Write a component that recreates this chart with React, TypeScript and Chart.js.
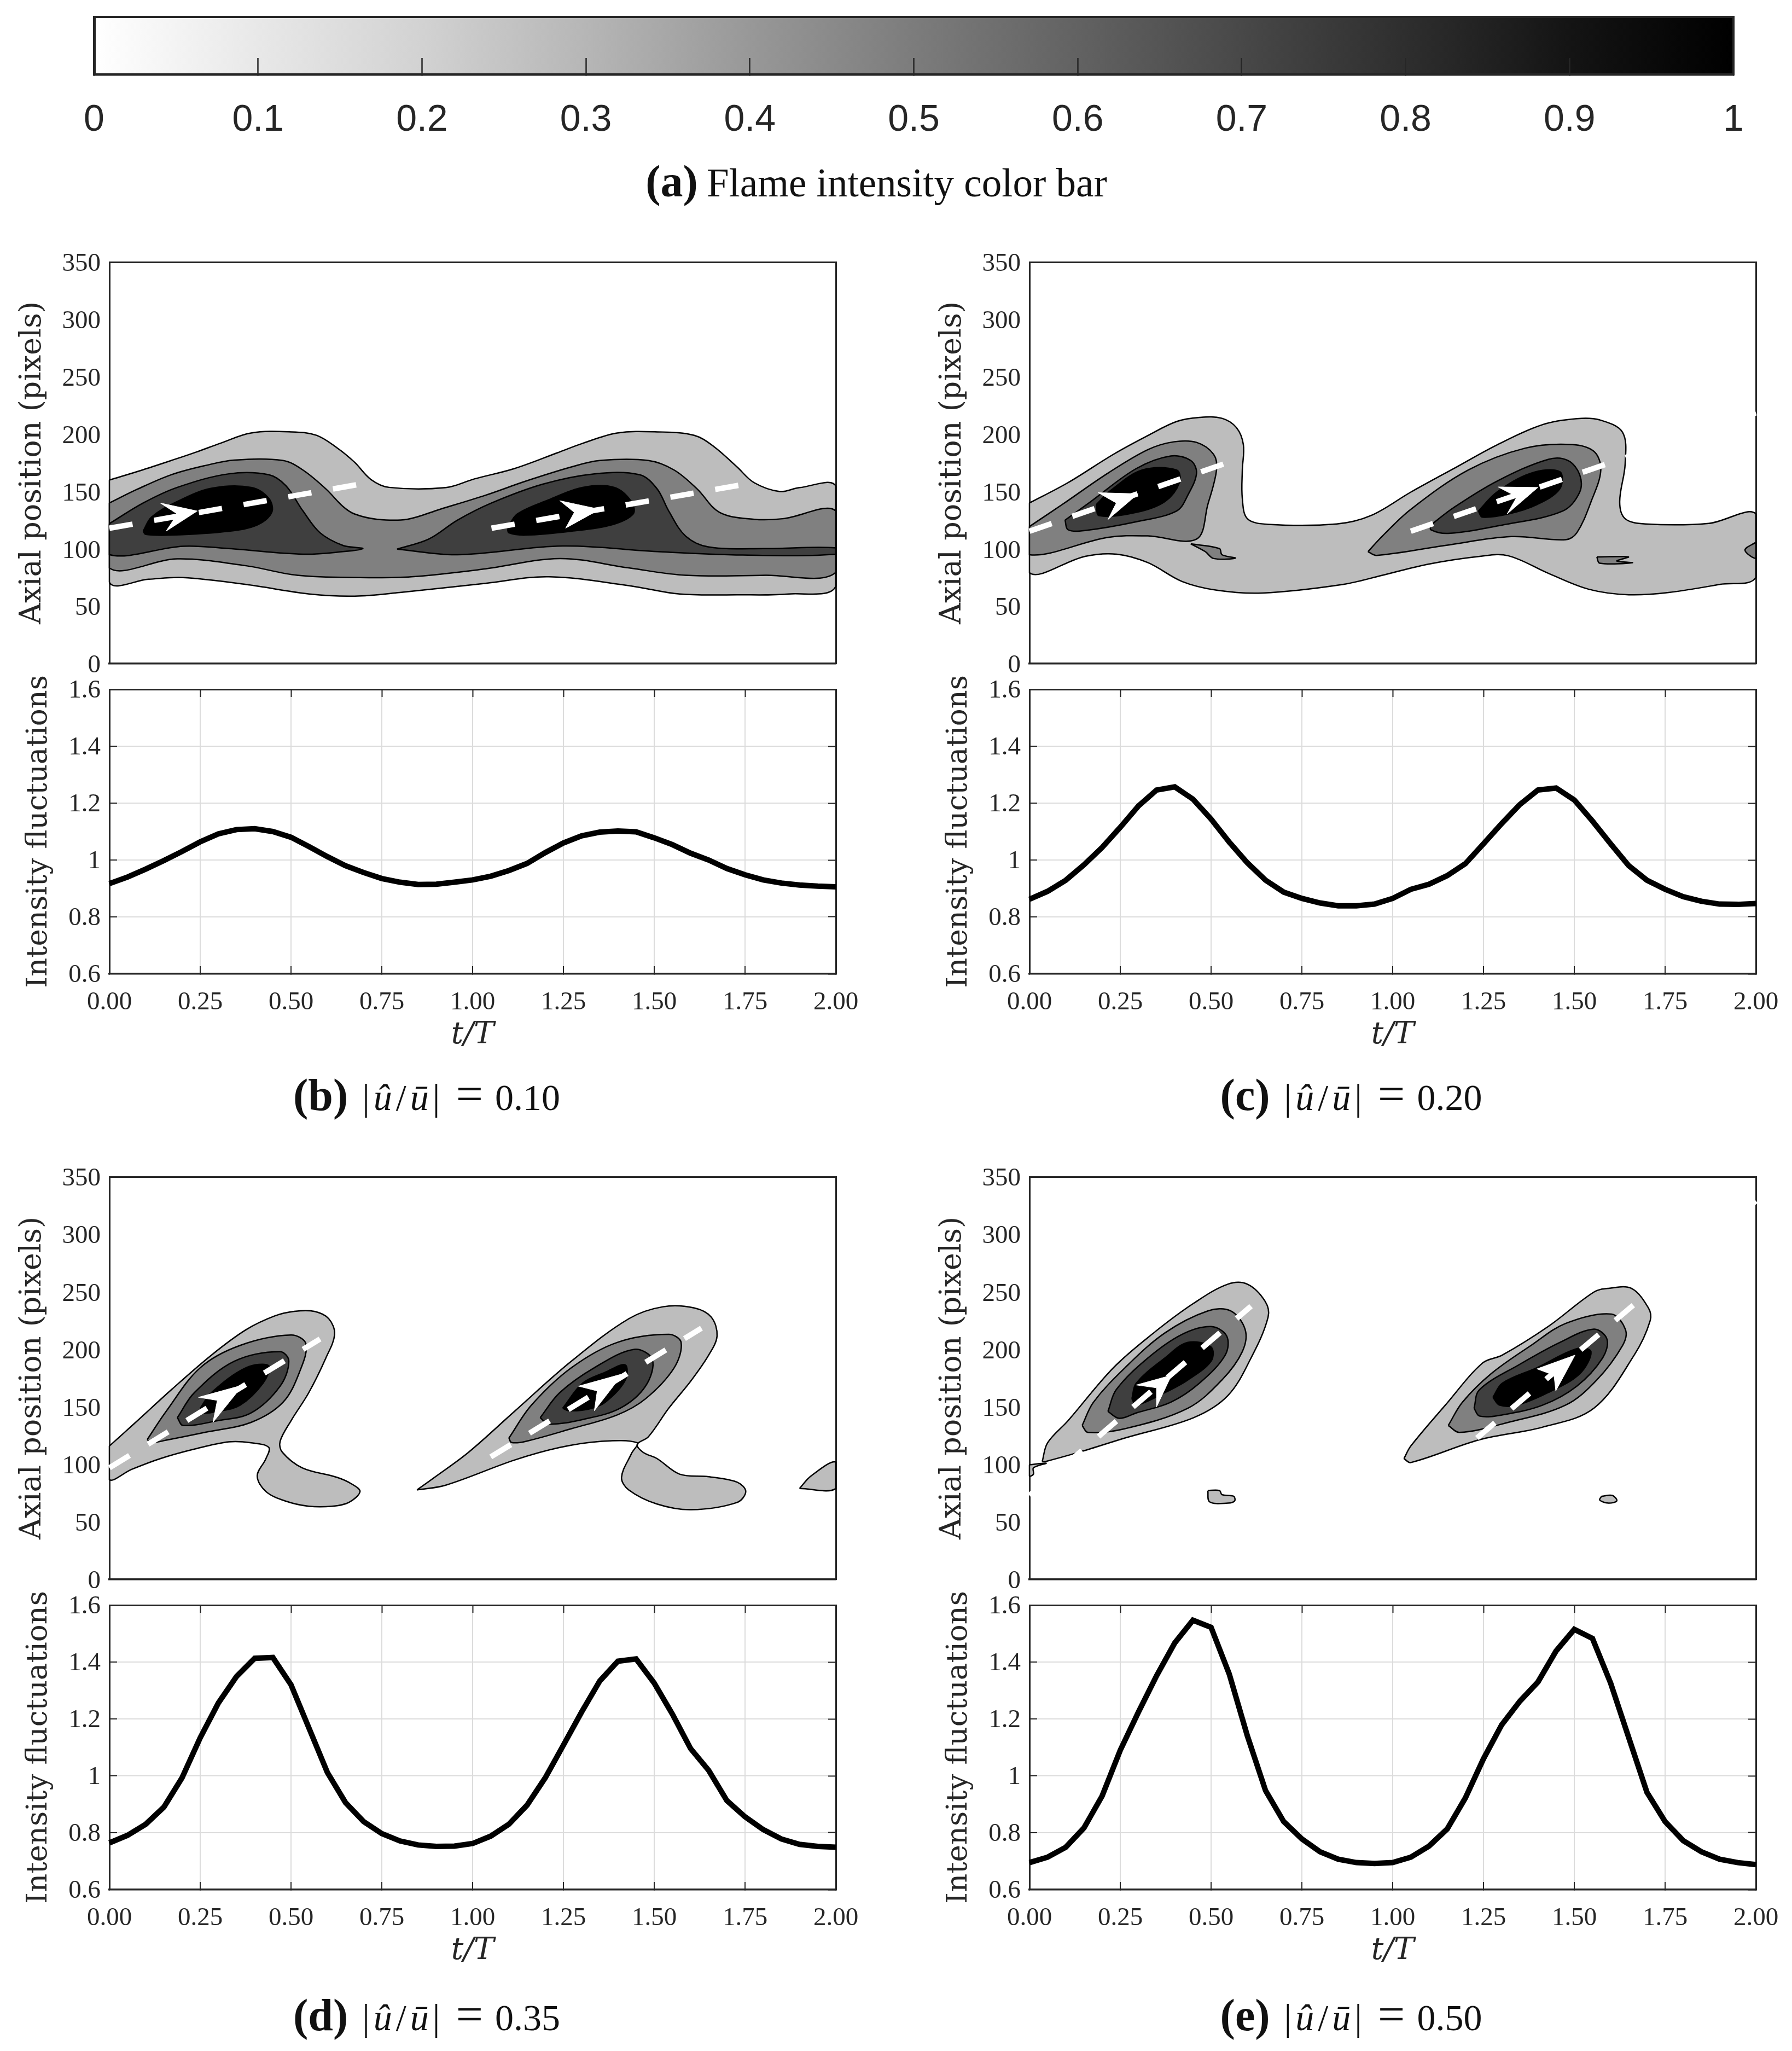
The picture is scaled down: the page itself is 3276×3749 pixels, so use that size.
import { useEffect, useRef } from 'react'
import { Chart, registerables } from 'chart.js'

Chart.register(...registerables)

// ── DATA ────────────────────────────────────────────────────────────────────

const timeSteps = [0,0.05,0.1,0.15,0.2,0.25,0.3,0.35,0.4,0.45,0.5,0.55,0.6,0.65,0.7,0.75,0.8,0.85,0.9,0.95,1,1.05,1.1,1.15,1.2,1.25,1.3,1.35,1.4,1.45,1.5,1.55,1.6,1.65,1.7,1.75,1.8,1.85,1.9,1.95,2]

const intensityB = [.917,.94,.968,.998,1.03,1.064,1.092,1.107,1.11,1.1,1.08,1.047,1.012,.98,.956,.935,.922,.914,.915,.922,.93,.943,.963,.988,1.026,1.06,1.085,1.098,1.102,1.099,1.078,1.054,1.024,1,.97,.948,.93,.919,.912,.908,.906]
const intensityC = [.862,.89,.929,.983,1.044,1.115,1.19,1.246,1.257,1.214,1.144,1.063,.99,.929,.887,.865,.849,.839,.839,.845,.865,.897,.915,.945,.987,1.057,1.128,1.195,1.246,1.253,1.211,1.137,1.057,.98,.929,.897,.871,.855,.845,.844,.847]
const intensityD = [.764,.791,.83,.89,.993,1.134,1.256,1.349,1.413,1.416,1.32,1.166,1.012,.906,.839,.797,.771,.757,.752,.753,.762,.788,.83,.897,.993,1.108,1.224,1.333,1.403,1.411,1.326,1.217,1.096,1.019,.913,.856,.811,.778,.759,.752,.749]
const intensityE = [.695,.714,.749,.817,.929,1.09,1.224,1.352,1.467,1.547,1.522,1.358,1.14,.948,.839,.778,.733,.707,.695,.692,.695,.714,.753,.813,.922,1.06,1.179,1.262,1.33,1.439,1.515,1.483,1.326,1.134,.942,.839,.772,.733,.707,.695,.688]

// contour outlines, [t/T, axial position]
const lightB = [[[0,160],[.09,168.7],[.17,177],[.24,184.5],[.305,192],[.39,201],[.5,202],[.57,199],[.627,188],[.675,175.5],[.72,160.5],[.77,153.6],[.926,153.4],[1.005,161],[1.115,170],[1.233,183.7],[1.303,192],[1.398,201],[1.508,202],[1.61,199],[1.665,189],[1.728,171.4],[1.775,157.7],[1.846,150],[1.9,153.4],[2,154.5],[2,67.5],[1.87,60.7],[1.728,60],[1.57,60.7],[1.43,68],[1.21,75.7],[1.036,70],[.8,62],[.675,58.8],[.55,60.7],[.376,69],[.203,75],[.108,73.5],[0,71]]]
const midB = [[[0,140],[.077,152],[.17,164.6],[.266,172.8],[.344,177.4],[.478,177],[.533,168.7],[.596,152.3],[.643,137],[.675,130.4],[.737,125.8],[.82,125.8],[.91,134.5],[1.036,146.8],[1.146,159],[1.272,171.4],[1.35,177],[1.484,177],[1.555,168.7],[1.618,152.3],[1.68,131.8],[1.775,125.8],[1.854,126.3],[2,133],[2,79.6],[1.806,77],[1.586,77],[1.43,83.4],[1.24,91.6],[1.036,82.6],[.832,75.7],[.69,75],[.517,77],[.376,85.3],[.187,91.3],[0,83.4]]]
const darkB = [
  [[0,122],[.093,140],[.187,153.6],[.329,165.4],[.439,164.6],[.486,155],[.533,133],[.58,114],[.643,103],[.698,100.3],[.643,97.6],[.533,95.4],[.329,100.3],[.203,102.3],[0,95]],
  [[.792,99.8],[.879,108.5],[.958,125],[1.052,140],[1.193,156.4],[1.335,165.4],[1.46,164.6],[1.508,152.3],[1.54,133],[1.586,111.3],[1.65,101.7],[1.806,100.3],[2,100.9],[2,95.4],[1.744,94.6],[1.508,97.6],[1.248,102.5],[.958,94.9]],
]
const coreB = [
  [[.093,115.4],[.116,127.7],[.187,141.3],[.281,152.8],[.39,153.6],[.439,144],[.447,131.8],[.407,120.8],[.329,115.4],[.17,112],[.1,112.6]],
  [[1.096,118],[1.123,130.4],[1.209,142.7],[1.303,153.6],[1.39,153.6],[1.437,141.3],[1.442,130.4],[1.382,120.8],[1.272,115.4],[1.146,112],[1.1,114]],
]
const tracksB = [[[0,118],[.737,159]],[[1.052,118],[1.775,157.7]]]
const arrowsB = [
  [[.242,133],[.14,140],[.187,130.4],[.156,115.4]],
  [[1.35,134.5],[1.24,142],[1.28,131.8],[1.256,118]],
]

const lightC = [[[0,140],[.106,157.7],[.231,182.4],[.326,198.8],[.405,211],[.468,214.6],[.53,213.8],[.57,205.6],[.589,190.6],[.586,168.7],[.586,144],[.6,126.3],[.657,121.4],[.846,121.7],[.94,129],[1.05,149.5],[1.176,171.4],[1.287,190.6],[1.413,208.3],[1.507,213.5],[1.57,212.4],[1.633,201.5],[1.64,174],[1.625,141],[1.64,126.3],[1.696,121.7],[1.87,122.2],[2,130.4],[2,75.2],[1.9,69],[1.76,62],[1.65,60],[1.54,64.8],[1.43,78.5],[1.318,94],[1.24,93.5],[1.098,86.7],[.972,77],[.861,68.9],[.641,61.5],[.515,64],[.42,71.6],[.326,88],[.24,95.4],[.153,93.5],[0,79.3]]]
const midC = [
  [[0,119.5],[.09,138.6],[.216,166],[.326,186.5],[.397,193.3],[.46,192.8],[.507,182.4],[.515,168.7],[.491,138.6],[.46,108.5],[.326,111.3],[.216,110],[0,94.9]],
  [[.932,97.6],[.972,111.3],[1.05,134.5],[1.208,168.7],[1.365,187.8],[1.491,191],[1.554,185],[1.573,168.7],[1.546,141],[1.507,114],[1.476,108],[1.326,110.7],[1.145,103],[.956,94.3]],
  [[.444,104.4],[.523,100.3],[.53,94.9],[.567,92],[.507,91.6],[.484,97.6]],
  [[1.562,93],[1.649,93],[1.617,89.4],[1.66,88],[1.57,87.5]],
  [[2,105.8],[1.97,99],[2,92]],
]
const darkC = [
  [[.098,125],[.169,141.3],[.294,170],[.389,181],[.444,177],[.46,166],[.436,146.8],[.405,133],[.294,123.6],[.153,116],[.106,116.7]],
  [[1.105,120.8],[1.168,136],[1.287,159],[1.428,178],[1.483,177],[1.515,164.6],[1.515,149.5],[1.468,133],[1.302,120.8],[1.153,113.5],[1.105,116.7]],
]
const coreC = [
  [[.184,138.6],[.224,151],[.31,168.7],[.405,168.7],[.413,157.8],[.373,141.3],[.294,131.8],[.192,129]],
  [[1.236,133],[1.287,149.5],[1.381,166],[1.46,167.3],[1.46,152.3],[1.397,138.6],[1.318,130.4],[1.247,127.7]],
]
const tracksC = [[[0,115.4],[.586,179.6]],[[1.05,115.4],[2,218.6]]]
const arrowsC = [
  [[.299,148],[.189,149],[.239,140],[.216,125.5]],
  [[1.4,153.6],[1.29,154],[1.342,145.4],[1.315,130.4]],
]

const lightD = [
  [[0,116],[.077,137.9],[.171,165],[.281,195],[.376,217],[.455,229],[.509,233],[.564,233],[.604,226.6],[.62,213],[.596,192.5],[.549,162.4],[.5,137.9],[.47,120],[.476,110.6],[.531,97],[.627,88.7],[.667,83],[.69,76.4],[.659,66.9],[.613,63.6],[.549,63.6],[.486,68],[.431,76.4],[.407,90],[.431,105],[.439,114.7],[.39,118.8],[.329,119.6],[.234,113.3],[.14,105],[.061,95.6],[0,86.8]],
  [[.847,77.8],[.895,88.7],[.989,110.6],[1.115,146],[1.272,189.7],[1.43,226.6],[1.524,237],[1.61,236],[1.657,228],[1.673,211.6],[1.65,195],[1.602,173],[1.54,148.8],[1.484,124],[1.453,117.4],[1.469,110.6],[1.508,105],[1.57,91.5],[1.65,89.3],[1.728,84.6],[1.752,76.4],[1.728,66.9],[1.602,60.6],[1.508,65.5],[1.43,77.8],[1.41,88.7],[1.437,109.2],[1.453,118.8],[1.352,120],[1.24,114.7],[1.115,103.7],[.926,81.9]],
  [[1.9,79],[1.932,90],[2,102],[2,79]],
]
const midD = [
  [[.104,121.5],[.156,146],[.25,184],[.36,203.4],[.5,212.4],[.541,204.8],[.525,181.5],[.478,154],[.39,136.5],[.266,128],[.156,121],[.116,119]],
  [[1.1,122.9],[1.162,151.5],[1.272,184],[1.398,206],[1.54,213],[1.574,206],[1.555,184],[1.476,157],[1.398,143],[1.272,131],[1.146,120],[1.107,119]],
]
const darkD = [
  [[.187,140.6],[.234,162.4],[.344,189.7],[.47,198],[.494,189.7],[.47,168],[.39,144.7],[.297,137.9],[.203,133.8]],
  [[1.186,140.6],[1.24,162.4],[1.335,184],[1.445,200],[1.495,191],[1.476,168],[1.406,148.8],[1.303,139],[1.209,135]],
]
const coreD = [
  [[.25,148.8],[.281,162.4],[.376,184],[.439,185.6],[.423,170.6],[.36,151.5],[.297,146],[.258,144.7]],
  [[1.248,148.8],[1.303,170.6],[1.365,180],[1.42,186.5],[1.42,173],[1.365,154],[1.319,148],[1.264,146.6]],
]
const tracksD = [[[0,97],[.58,209]],[[1.05,106.5],[1.63,218.4]]]
const arrowsD = [
  [[.368,169],[.245,158.3],[.297,155.6],[.285,136.5]],
  [[1.414,178.8],[1.291,168],[1.343,163.8],[1.335,146.6]],
]

const lightE = [
  [[.035,102.4],[.05,118.8],[.106,137.9],[.231,184],[.342,214.3],[.452,240],[.546,256.6],[.6,256.6],[.649,241.6],[.657,228],[.61,192.5],[.546,159.7],[.452,140.6],[.263,122.9],[.137,110.6],[.043,102.4]],
  [[1.031,105],[1.05,116],[1.145,151.5],[1.247,188],[1.302,195],[1.428,219.8],[1.554,249.8],[1.594,253],[1.657,253],[1.704,236],[1.709,225],[1.665,195],[1.554,148.8],[1.413,132.4],[1.24,121.5],[1.05,101.6]],
  [[0,99.6],[.046,101],[.011,97],[.011,91.5],[0,90]],
  [[.491,77.3],[.523,77.3],[.53,73.7],[.562,72.3],[.565,68.3],[.546,66.3],[.496,67.4]],
  [[1.575,72.3],[1.605,73],[1.617,68.3],[1.594,66.3],[1.57,69]],
]
const midE = [
  [[.145,133.8],[.176,154],[.263,184],[.373,214.3],[.491,233.4],[.554,233.4],[.594,217],[.586,198],[.53,173.4],[.436,148.8],[.263,131],[.161,127.8]],
  [[1.153,133.8],[1.192,154],[1.271,178.8],[1.381,203.4],[1.476,222.5],[1.602,230.7],[1.641,217],[1.633,203.4],[1.562,173.4],[1.476,151.5],[1.318,136.5],[1.184,127.8]],
]
const darkE = [
  [[.216,146],[.239,165],[.326,192.5],[.42,213],[.5,219.8],[.543,211.6],[.539,195],[.468,170.6],[.389,154],[.294,144.7],[.247,140]],
  [[1.224,148.8],[1.239,165],[1.35,187],[1.46,206],[1.554,217.6],[1.59,208.8],[1.578,192.5],[1.507,168],[1.413,151.5],[1.302,143],[1.239,142]],
]
const coreE = [
  [[.282,157],[.294,170.6],[.373,192.5],[.436,206],[.5,202],[.5,189.7],[.436,173.4],[.373,162.4],[.294,151.5]],
  [[1.276,158.3],[1.302,170.6],[1.397,184],[1.507,200.6],[1.546,198],[1.515,178.8],[1.428,162.4],[1.342,151.5],[1.294,151.5]],
]
const tracksE = [[[0,73],[.61,237.5]],[[1.232,122.9],[2,329]]]
const arrowsE = [
  [[.391,177.5],[.294,169],[.35,166.5],[.35,150]],
  [[1.502,195],[1.397,183],[1.444,177.5],[1.449,163.8]],
]

const barStops = [0,.1,.2,.3,.4,.5,.6,.7,.8,.9,1]
const barGrays = [255,232,210,182,152,124,98,72,46,20,0]
const barTickLabels = ['0','0.1','0.2','0.3','0.4','0.5','0.6','0.7','0.8','0.9','1']

// ── STYLE ───────────────────────────────────────────────────────────────────

const INK = '#262626'
const SERIF = 'Liberation Serif'
const CM = 'DejaVu Serif'
const AXIS_W = 200
const PAD_T = 70
const PAD_R = 110
const PAD_B = 50
const LINE_BOTTOM = 160

const LEVELS = { light:'#bdbdbd', mid:'#808080', dark:'#3f3f3f', core:'#000000' }

function pts(list:number[][]) { return list.map(([x,y]) => ({ x, y })) }

function poly(list:number[][], color:string, tension = .35) {
  return {
    data: pts([...list, list[0]]),
    fill: 'shape', backgroundColor: color, borderColor: '#000', borderWidth: 2.5,
    pointRadius: 0, tension, clip: 2,
  }
}

function withOrder(sets:any[]) {
  // chart.js paints the lowest order last, so the first set goes underneath
  return sets.map((s,i) => ({ ...s, order: sets.length - i }))
}

function fixedW(w:number) { return (s:any) => { s.width = w } }
function fixedH(h:number) { return (s:any) => { s.height = h } }

function frameAxes(tick:number) {
  const grid = { drawOnChartArea:false, drawTicks:tick>0, tickLength:-tick, tickColor:INK, tickWidth:2 }
  const border = { display:true, color:INK, width:3 }
  return {
    x2: { axis:'x', type:'linear', position:'top', min:0, max:2, afterFit:fixedH(0),
      ticks:{ display:false, stepSize:.25 }, grid, border },
    y2: { axis:'y', type:'linear', position:'right', afterFit:fixedW(0),
      ticks:{ display:false }, grid, border },
  }
}

function useChart(build:(c:HTMLCanvasElement)=>any) {
  const ref = useRef<HTMLCanvasElement>(null)
  useEffect(() => {
    if (!ref.current) return
    const chart = new Chart(ref.current, build(ref.current))
    return () => { chart.destroy() }
  }, [])
  return ref
}

// ── PANELS ──────────────────────────────────────────────────────────────────

function ColorBar() {
  const ref = useChart(() => ({
    type:'bar',
    data:{
      labels:['intensity'],
      datasets:[{
        data:[[0,1]], barPercentage:1, categoryPercentage:1,
        backgroundColor:(c:any) => {
          const area = c.chart.chartArea
          if (!area) return '#888'
          const g = c.chart.ctx.createLinearGradient(area.left,0,area.right,0)
          barStops.forEach((s,i) => g.addColorStop(s, `rgb(${barGrays[i]},${barGrays[i]},${barGrays[i]})`))
          return g
        },
      }],
    },
    options:{
      indexAxis:'y', responsive:false, animation:false, devicePixelRatio:1,
      layout:{ padding:{ left:172, right:3276-3169, top:31, bottom:0 } },
      plugins:{ legend:{ display:false }, tooltip:{ enabled:false } },
      scales:{
        x:{ type:'linear', min:0, max:1, afterFit:fixedH(164),
          ticks:{ stepSize:.1, autoSkip:false, maxRotation:0, padding:73, color:INK,
            font:{ family:'Liberation Sans', size:68 }, callback:(_:any,i:number) => barTickLabels[i] },
          grid:{ drawOnChartArea:false, tickLength:-30, tickColor:INK, tickWidth:2.5, z:1 },
          border:{ display:true, color:INK, width:4.5, z:1 } },
        y:{ afterFit:fixedW(0), ticks:{ display:false }, grid:{ display:false, drawTicks:false },
          border:{ display:true, color:INK, width:5, z:1 } },
        x2:{ axis:'x', type:'linear', position:'top', min:0, max:1, afterFit:fixedH(0),
          ticks:{ display:false }, grid:{ display:false, drawTicks:false },
          border:{ display:true, color:INK, width:4, z:1 } },
        y2:{ axis:'y', type:'linear', position:'right', afterFit:fixedW(0),
          ticks:{ display:false }, grid:{ display:false, drawTicks:false },
          border:{ display:true, color:INK, width:4, z:1 } },
      },
    },
  }))
  return <canvas ref={ref} width={3276} height={300} style={{ position:'absolute', left:0, top:0 }} />
}

function ContourPlot({ left, top, width, height, light, mid, dark, core, tracks, arrows }:{
  left:number; top:number; width:number; height:number
  light:number[][][]; mid:number[][][]; dark:number[][][]; core:number[][][]
  tracks:number[][][]; arrows:number[][][]
}) {
  const ref = useChart(() => ({
    type:'line',
    data:{ datasets: withOrder([
      ...light.map(p => poly(p, LEVELS.light)),
      ...mid.map(p => poly(p, LEVELS.mid)),
      ...dark.map(p => poly(p, LEVELS.dark)),
      ...core.map(p => poly(p, LEVELS.core)),
      ...tracks.map(t => ({
        data:pts(t), borderColor:'#fff', borderWidth:10, borderDash:[43,40], borderCapStyle:'butt',
        pointRadius:0, fill:false, clip:3,
      })),
      ...arrows.map(a => ({
        ...poly(a, '#fff', 0), borderColor:'#fff', borderWidth:1,
      })),
    ]) },
    options:{
      responsive:false, animation:false, devicePixelRatio:1,
      layout:{ padding:{ top:PAD_T, right:PAD_R, bottom:PAD_B } },
      plugins:{ legend:{ display:false }, tooltip:{ enabled:false } },
      scales:{
        x:{ type:'linear', min:0, max:2, afterFit:fixedH(0), ticks:{ display:false, stepSize:.25 },
          grid:{ display:false, drawTicks:false }, border:{ display:true, color:INK, width:3.5 } },
        y:{ type:'linear', min:0, max:350, afterFit:fixedW(AXIS_W),
          ticks:{ stepSize:50, padding:16, labelOffset:4, color:INK, font:{ family:SERIF, size:47 } },
          grid:{ display:false, drawTicks:false }, border:{ display:true, color:INK, width:3 },
          title:{ display:true, text:'Axial position (pixels)', color:INK,
            font:{ family:CM, size:54 }, padding:{ top:28, bottom:0 } } },
        x2:{ axis:'x', type:'linear', position:'top', min:0, max:2, afterFit:fixedH(0),
          ticks:{ display:false }, grid:{ display:false, drawTicks:false }, border:{ display:true, color:INK, width:3 } },
        y2:{ axis:'y', type:'linear', position:'right', min:0, max:350, afterFit:fixedW(0),
          ticks:{ display:false }, grid:{ display:false, drawTicks:false }, border:{ display:true, color:INK, width:3 } },
      },
    },
  }))
  return <canvas ref={ref} width={AXIS_W+width+PAD_R} height={PAD_T+height+PAD_B}
    style={{ position:'absolute', left:left-AXIS_W, top:top-PAD_T }} />
}

function IntensityPlot({ left, top, width, height, values }:{
  left:number; top:number; width:number; height:number; values:number[]
}) {
  const ref = useChart(() => {
    const frame = frameAxes(14)
    return {
      type:'line',
      data:{ datasets:[{
        data:timeSteps.map((t,i) => ({ x:t, y:values[i] })),
        borderColor:'#000', borderWidth:10, pointRadius:0, tension:0, fill:false, clip:4,
      }] },
      options:{
        responsive:false, animation:false, devicePixelRatio:1,
        layout:{ padding:{ top:PAD_T, right:PAD_R } },
        plugins:{ legend:{ display:false }, tooltip:{ enabled:false } },
        scales:{
          x:{ type:'linear', min:0, max:2, afterFit:fixedH(LINE_BOTTOM),
            ticks:{ stepSize:.25, autoSkip:false, maxRotation:0, padding:38, color:INK,
              font:{ family:SERIF, size:47 }, callback:(v:any) => (+v).toFixed(2) },
            grid:{ color:'#dcdcdc', lineWidth:2, tickLength:-14, tickColor:INK, tickWidth:2 },
            border:{ display:true, color:INK, width:3.5 },
            title:{ display:true, text:'t/T', color:INK,
              font:{ family:CM, size:56, style:'italic' }, padding:{ top:0, bottom:14 } } },
          y:{ type:'linear', min:.6, max:1.6, afterFit:fixedW(AXIS_W),
            ticks:{ stepSize:.2, padding:30, labelOffset:3, color:INK, font:{ family:SERIF, size:47 },
              callback:(v:any) => String(+(+v).toFixed(1)) },
            grid:{ color:'#dcdcdc', lineWidth:2, tickLength:-14, tickColor:INK, tickWidth:2 },
            border:{ display:true, color:INK, width:3 },
            title:{ display:true, text:'Intensity fluctuations', color:INK,
              font:{ family:CM, size:53 }, padding:{ top:39, bottom:0 } } },
          ...frame,
          y2:{ ...frame.y2, min:.6, max:1.6, ticks:{ display:false, stepSize:.2 } },
        },
      },
    }
  })
  return <canvas ref={ref} width={AXIS_W+width+PAD_R} height={PAD_T+height+LINE_BOTTOM}
    style={{ position:'absolute', left:left-AXIS_W, top:top-PAD_T }} />
}

function Caption({ x, y, tag, children }:{ x:number; y:number; tag:string; children:any }) {
  return (
    <div style={{
      position:'absolute', left:x, top:y, transform:'translate(-50%,-50%)', whiteSpace:'nowrap',
      fontFamily:SERIF, fontSize:73, lineHeight:1, color:'#111',
    }}>
      <b style={{ fontSize:82, marginRight:16 }}>({tag})</b>{children}
    </div>
  )
}

function Amp({ value }:{ value:string }) {
  return (
    <span style={{ fontSize:68 }}>
      <span style={{ letterSpacing:7, marginLeft:10 }}>|<i>û</i>/<i>ū</i>|</span>
      <span style={{ margin:'0 22px 0 22px', fontSize:88, lineHeight:0 }}>=</span>{value}
    </span>
  )
}

export default function App() {
  const L = 200, R = 1882, W = 1328
  return (
    <div style={{ position:'absolute', left:0, top:0, width:3276, height:3749, background:'#fff', overflow:'hidden' }}>
      <ColorBar />
      <Caption x={1602} y={332} tag="a">Flame intensity color bar</Caption>

      <ContourPlot left={L} top={479} width={W} height={734} light={lightB} mid={midB} dark={darkB} core={coreB} tracks={tracksB} arrows={arrowsB} />
      <IntensityPlot left={L} top={1260} width={W} height={520} values={intensityB} />
      <Caption x={780} y={2002} tag="b"><Amp value="0.10" /></Caption>

      <ContourPlot left={R} top={479} width={W} height={734} light={lightC} mid={midC} dark={darkC} core={coreC} tracks={tracksC} arrows={arrowsC} />
      <IntensityPlot left={R} top={1260} width={W} height={520} values={intensityC} />
      <Caption x={2470} y={2002} tag="c"><Amp value="0.20" /></Caption>

      <ContourPlot left={L} top={2151} width={W} height={736} light={lightD} mid={midD} dark={darkD} core={coreD} tracks={tracksD} arrows={arrowsD} />
      <IntensityPlot left={L} top={2934} width={W} height={520} values={intensityD} />
      <Caption x={780} y={3684} tag="d"><Amp value="0.35" /></Caption>

      <ContourPlot left={R} top={2151} width={W} height={736} light={lightE} mid={midE} dark={darkE} core={coreE} tracks={tracksE} arrows={arrowsE} />
      <IntensityPlot left={R} top={2934} width={W} height={520} values={intensityE} />
      <Caption x={2470} y={3684} tag="e"><Amp value="0.50" /></Caption>
    </div>
  )
}
